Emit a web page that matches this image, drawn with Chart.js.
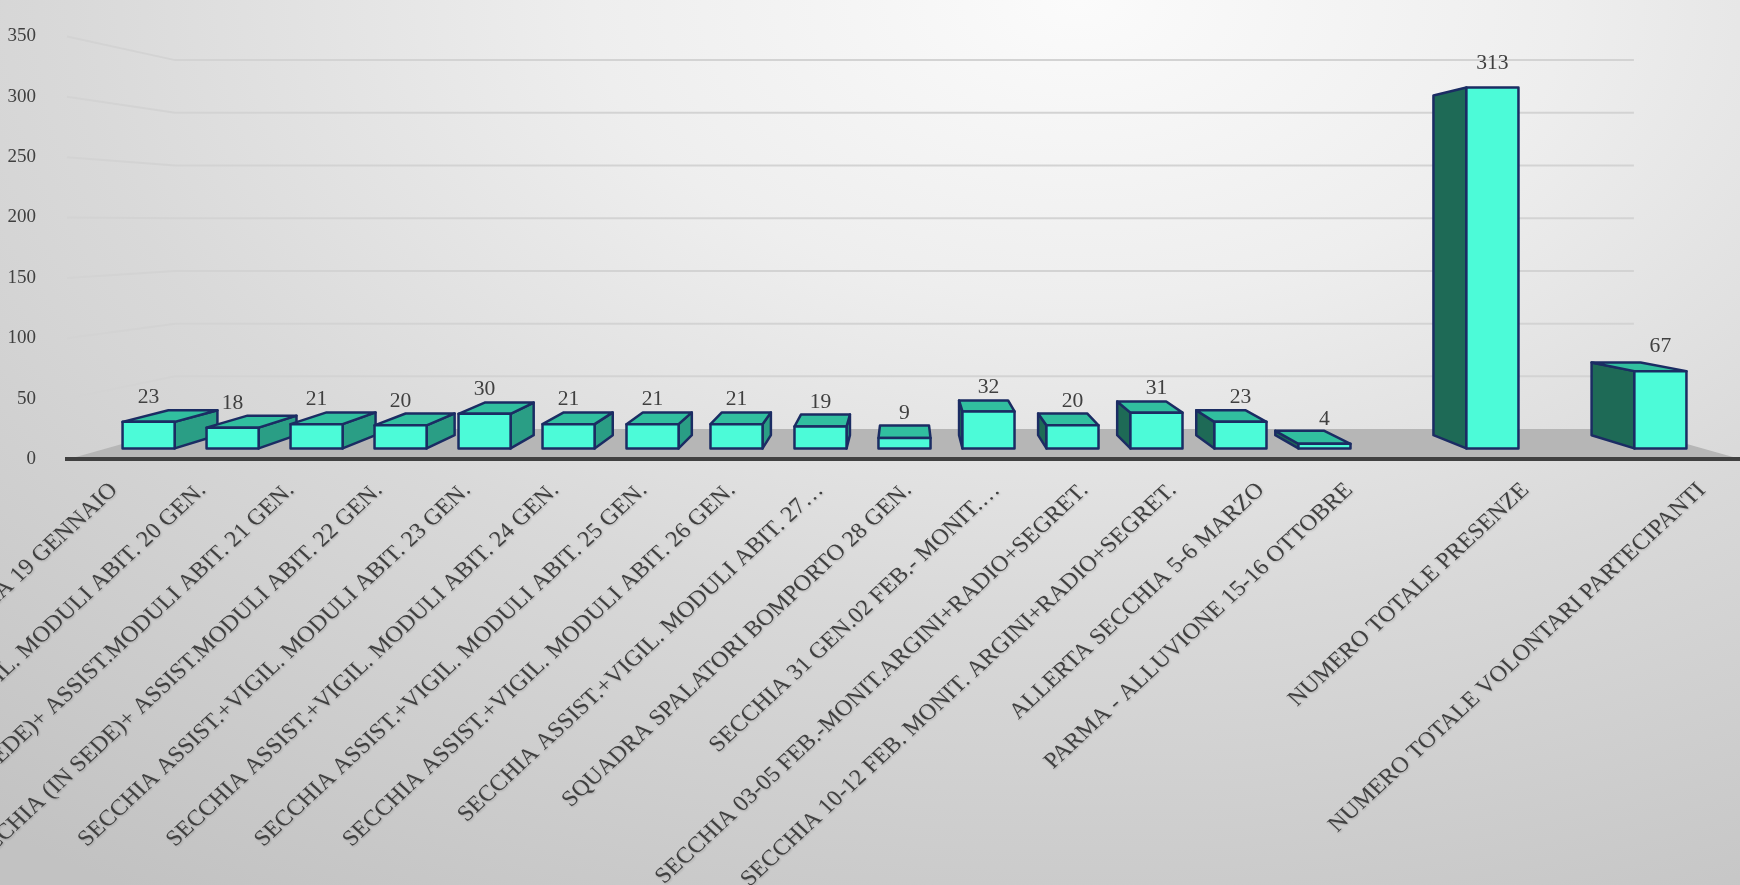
<!DOCTYPE html>
<html lang="it">
<head>
<meta charset="UTF-8">
<title>Presenze volontari</title>
<style>
    html, body { margin: 0; padding: 0; }
    body {
        width: 1740px;
        height: 885px;
        overflow: hidden;
        background: radial-gradient(ellipse 100% 120% at 62% 0%, #fbfbfb 0%, #eeeeee 28%, #d9d9d9 58%, #c2c2c2 100%);
    }
    .chart-box { position: relative; width: 1740px; height: 885px; }
</style>
</head>
<body>
<div class="chart-box"><canvas id="presenze-chart"></canvas></div>

<script src="https://cdn.jsdelivr.net/npm/chart.js"></script>
<script>
    const categories = [
        'SECCHIA 19 GENNAIO',
        'SECCHIA (IN SEDE)+ VIGIL. MODULI ABIT. 20 GEN.',
        'SECCHIA (IN SEDE)+ ASSIST.MODULI ABIT. 21 GEN.',
        'SECCHIA (IN SEDE)+ ASSIST.MODULI ABIT. 22 GEN.',
        'SECCHIA ASSIST.+VIGIL. MODULI ABIT. 23 GEN.',
        'SECCHIA ASSIST.+VIGIL. MODULI ABIT. 24 GEN.',
        'SECCHIA ASSIST.+VIGIL. MODULI ABIT. 25 GEN.',
        'SECCHIA ASSIST.+VIGIL. MODULI ABIT. 26 GEN.',
        'SECCHIA ASSIST.+VIGIL. MODULI ABIT. 27…',
        'SQUADRA SPALATORI BOMPORTO 28 GEN.',
        'SECCHIA 31 GEN.02 FEB.- MONIT.…',
        'SECCHIA 03-05 FEB.-MONIT.ARGINI+RADIO+SEGRET.',
        'SECCHIA 10-12 FEB. MONIT. ARGINI+RADIO+SEGRET.',
        'ALLERTA SECCHIA 5-6 MARZO',
        'PARMA - ALLUVIONE 15-16 OTTOBRE',
        '',
        'NUMERO TOTALE PRESENZE',
        '',
        'NUMERO TOTALE VOLONTARI PARTECIPANTI'
    ];
    const presenze = [23, 18, 21, 20, 30, 21, 21, 21, 19, 9, 32, 20, 31, 23, 4, null, 313, null, 67];
    const yMin = 0;
    const yMax = 350;
    const yStep = 50;

    const colFront = '#4cfbd8';
    const colTop = '#31bf9f';
    const colRight = '#2a9e85';
    const colLeft = '#1e6a56';
    const colEdge = '#1b2c63';
    const textCol = '#404040';
    const serif = '"Liberation Serif", "Times New Roman", serif';

    // depth factors of the fake 3d view (1 = front edge of the floor)
    const FRONT = 0.955, BACK = 0.899, WALL = 0.873;
    const STRETCH = 1.08;

    function vanish(area) {
        return { x: (area.left + area.right) / 2, y: area.top + (area.bottom - area.top) * 0.442 };
    }
    function proj(v, x, y, s) {
        return [v.x + s * (x - v.x), v.y + s * (y - v.y)];
    }
    function poly(ctx, pts, fill) {
        ctx.beginPath();
        ctx.moveTo(pts[0][0], pts[0][1]);
        for (let i = 1; i < pts.length; i++) ctx.lineTo(pts[i][0], pts[i][1]);
        ctx.closePath();
        ctx.fillStyle = fill;
        ctx.fill();
        ctx.stroke();
    }

    const room = {
        id: 'room',
        beforeDatasetsDraw(chart) {
            const ctx = chart.ctx, a = chart.chartArea, y = chart.scales.y;
            const v = vanish(a);
            ctx.save();
            // walls grid
            ctx.strokeStyle = '#d3d3d3';
            ctx.lineWidth = 2;
            for (let t = yMin + yStep; t <= yMax; t += yStep) {
                const py = y.getPixelForValue(t);
                const bl = proj(v, a.left, py, WALL), br = proj(v, a.right, py, WALL);
                ctx.beginPath();
                ctx.moveTo(a.left - 2, py);
                ctx.lineTo(bl[0], bl[1]);
                ctx.lineTo(br[0], br[1]);
                ctx.stroke();
            }
            // floor
            const bl = proj(v, a.left, a.bottom, WALL), br = proj(v, a.right, a.bottom, WALL);
            ctx.beginPath();
            ctx.moveTo(a.left, a.bottom);
            ctx.lineTo(bl[0], bl[1]);
            ctx.lineTo(br[0], br[1]);
            ctx.lineTo(a.right, a.bottom);
            ctx.closePath();
            ctx.fillStyle = '#b6b6b6';
            ctx.fill();
            ctx.strokeStyle = '#404040';
            ctx.lineWidth = 4;
            ctx.beginPath();
            ctx.moveTo(a.left - 4, a.bottom);
            ctx.lineTo(a.right, a.bottom);
            ctx.stroke();
            ctx.restore();
        },
        afterDatasetsDraw(chart) {
            const ctx = chart.ctx, a = chart.chartArea;
            const v = vanish(a);
            const meta = chart.getDatasetMeta(0);
            const order = presenze.map((p, i) => i).filter(i => presenze[i] !== null);
            order.sort((i, j) => Math.abs(meta.data[j].x - v.x) - Math.abs(meta.data[i].x - v.x));
            ctx.save();
            ctx.strokeStyle = colEdge;
            ctx.lineWidth = 2.5;
            ctx.lineJoin = 'round';
            const tops = [];
            order.forEach(i => {
                const el = meta.data[i];
                const x0 = el.x - el.width / 2, x1 = el.x + el.width / 2;
                const fTL = proj(v, x0, el.y, FRONT), fTR = proj(v, x1, el.y, FRONT);
                const fBL = proj(v, x0, el.base, FRONT), fBR = proj(v, x1, el.base, FRONT);
                const bTL = proj(v, x0, el.y, BACK), bTR = proj(v, x1, el.y, BACK);
                const bBL = proj(v, x0, el.base, BACK), bBR = proj(v, x1, el.base, BACK);
                if (x1 < v.x) poly(ctx, [fTR, fBR, bBR, bTR], colRight);
                if (x0 > v.x) poly(ctx, [fTL, fBL, bBL, bTL], colLeft);
                if (fTL[1] > v.y) poly(ctx, [fTL, fTR, bTR, bTL], colTop);
                poly(ctx, [fTL, fTR, fBR, fBL], colFront);
                tops[i] = [(fTL[0] + fTR[0]) / 2, fTL[1]];
            });
            // value labels
            ctx.fillStyle = textCol;
            ctx.font = '20px ' + serif;
            ctx.textAlign = 'center';
            ctx.textBaseline = 'middle';
            presenze.forEach((p, i) => {
                if (p === null) return;
                ctx.save();
                ctx.translate(tops[i][0], tops[i][1] - 24);
                ctx.scale(STRETCH, 1);
                ctx.fillText(String(p), 0, 0);
                ctx.restore();
            });
            ctx.restore();
        },
        afterDraw(chart) {
            const ctx = chart.ctx, a = chart.chartArea, x = chart.scales.x;
            const v = vanish(a);
            ctx.save();
            ctx.fillStyle = textCol;
            ctx.shadowColor = 'rgba(0,0,0,0.18)';
            ctx.shadowBlur = 2;
            ctx.shadowOffsetX = 1;
            ctx.shadowOffsetY = 1;
            ctx.font = '22.5px ' + serif;
            ctx.textAlign = 'right';
            ctx.textBaseline = 'top';
            categories.forEach((lab, i) => {
                if (!lab) return;
                const px = x.getPixelForValue(i);
                ctx.save();
                ctx.translate(px - 5 + 0.003 * (px - v.x), a.bottom + 20);
                ctx.scale(STRETCH, 1);
                ctx.rotate(-Math.PI / 4);
                ctx.fillText(lab, 0, 0);
                ctx.restore();
            });
            ctx.restore();
        }
    };

    new Chart(document.getElementById('presenze-chart'), {
        type: 'bar',
        data: {
            labels: categories,
            datasets: [{
                data: presenze,
                backgroundColor: 'rgba(0,0,0,0)',
                borderWidth: 0,
                barPercentage: 0.62,
                categoryPercentage: 1
            }]
        },
        options: {
            responsive: true,
            maintainAspectRatio: false,
            animation: false,
            layout: { padding: { top: 22, bottom: 426, left: 0, right: 0 } },
            plugins: { legend: { display: false }, tooltip: { enabled: false } },
            scales: {
                x: { display: false },
                y: {
                    min: yMin,
                    max: yMax,
                    ticks: { stepSize: yStep, padding: 25, color: textCol, font: { family: serif, size: 19 } },
                    grid: { display: false },
                    border: { display: false },
                    afterFit: s => { s.width = 69; }
                }
            }
        },
        plugins: [room]
    });
</script>
</body>
</html>
